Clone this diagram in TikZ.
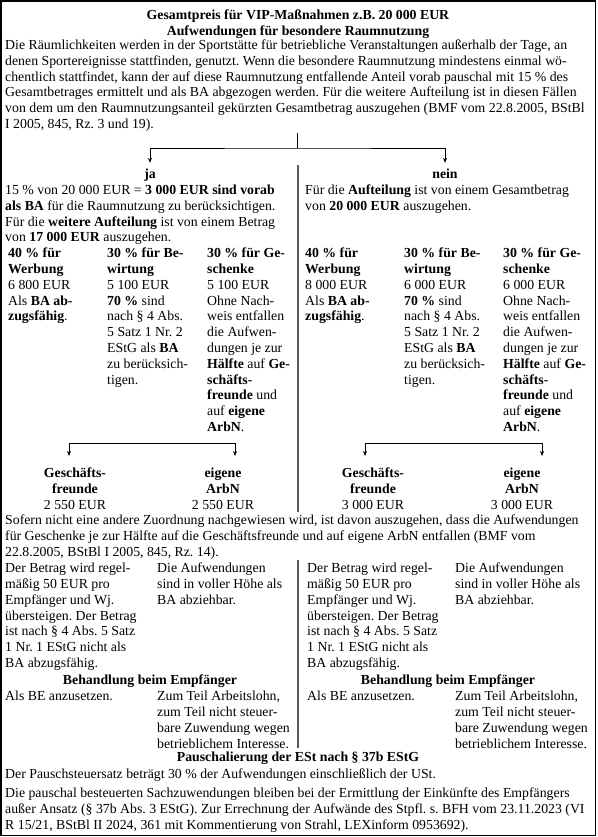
\documentclass[tikz,border=0pt]{standalone}
\usepackage{fontspec}
\setmainfont{Liberation Serif}
\usetikzlibrary{arrows.meta}
\newcommand{\fs}{\fontsize{13.8}{15.8}\selectfont}
\newcommand{\Lrows}[1]{\begin{tabular}[t]{@{}l@{}}#1\end{tabular}}
\newcommand{\Crows}[1]{\begin{tabular}[t]{@{}c@{}}#1\end{tabular}}
\frenchspacing
\begin{document}
\begin{tikzpicture}[x=1pt,y=-1pt,
  txt/.style={inner sep=0pt, anchor=base west, font=\fs},
  ctr/.style={inner sep=0pt, anchor=base, font=\fs},
  divider/.style={line width=2.2pt, draw=black!65},
  conn/.style={line width=0.7pt},
  arr/.style={line width=0.7pt, {Stealth[length=5pt,width=4pt]}-{Stealth[length=5pt,width=4pt]}}]
\useasboundingbox (0,0) rectangle (597,837);
\draw[line width=1.6pt] (1,1) rectangle (595.5,835.5);

% title
\node[ctr] (title) at (298,19.6) {\Crows{\textbf{Gesamtpreis für VIP-Maßnahmen z.B. 20 000 EUR}\\\textbf{Aufwendungen für besondere Raumnutzung}}};
\node[txt] (intro) at (5,49.6) {\Lrows{Die Räumlichkeiten werden in der Sportstätte für betriebliche Veranstaltungen außerhalb der Tage, an\\denen Sportereignisse stattfinden, genutzt. Wenn die besondere Raumnutzung mindestens einmal wö-\\chentlich stattfindet, kann der auf diese Raumnutzung entfallende Anteil vorab pauschal mit 15 \% des\\Gesamtbetrages ermittelt und als BA abgezogen werden. Für die weitere Aufteilung ist in diesen Fällen\\von dem um den Raumnutzungsanteil gekürzten Gesamtbetrag auszugehen (BMF vom 22.8.2005, BStBl\\I 2005, 845, Rz. 3 und 19).}};

% split ja / nein
\node[ctr] (ja) at (150,178.6) {\Crows{\textbf{ja}}};
\node[ctr] (nein) at (445,178.6) {\Crows{\textbf{nein}}};
\coordinate (q) at (297.5,133);
\coordinate (qs) at (297.5,148);
\draw[conn] (q) -- (qs);
\draw[arr, shorten <=4.5pt, shorten >=4.5pt] (ja.north) |- (qs) -| (nein.north);

\draw[divider] (298,165) -- (298,512);

% left / right intro
\node[txt] (ltxt) at (5,194.6) {\Lrows{15 \% von 20 000 EUR = \textbf{3 000 EUR sind vorab}\\\textbf{als BA} für die Raumnutzung zu berücksichtigen.\\Für die \textbf{weitere Aufteilung} ist von einem Betrag\\von \textbf{17 000 EUR} auszugehen.}};
\node[txt] (rtxt) at (305,194.6) {\Lrows{Für die \textbf{Aufteilung} ist von einem Gesamtbetrag\\von \textbf{20 000 EUR} auszugehen.}};

% columns left
\node[txt] (lw) at (8,257.6) {\Lrows{\textbf{40 \% für}\\\textbf{Werbung}\\6 800 EUR\\Als \textbf{BA ab-}\\\textbf{zugsfähig}.}};
\node[txt] (lb) at (107,257.6) {\Lrows{\textbf{30 \% für Be-}\\\textbf{wirtung}\\5 100 EUR\\\textbf{70 \%} sind\\nach § 4 Abs.\\5 Satz 1 Nr. 2\\EStG als \textbf{BA}\\zu berücksich-\\tigen.}};
\node[txt] (lg) at (207,257.6) {\Lrows{\textbf{30 \% für Ge-}\\\textbf{schenke}\\5 100 EUR\\Ohne Nach-\\weis entfallen\\die Aufwen-\\dungen je zur\\\textbf{Hälfte} auf \textbf{Ge-}\\\textbf{schäfts-}\\\textbf{freunde} und\\auf \textbf{eigene}\\\textbf{ArbN}.}};
% columns right
\node[txt] (rw) at (305,257.6) {\Lrows{\textbf{40 \% für}\\\textbf{Werbung}\\8 000 EUR\\Als \textbf{BA ab-}\\\textbf{zugsfähig}.}};
\node[txt] (rb) at (404,257.6) {\Lrows{\textbf{30 \% für Be-}\\\textbf{wirtung}\\6 000 EUR\\\textbf{70 \%} sind\\nach § 4 Abs.\\5 Satz 1 Nr. 2\\EStG als \textbf{BA}\\zu berücksich-\\tigen.}};
\node[txt] (rg) at (503,257.6) {\Lrows{\textbf{30 \% für Ge-}\\\textbf{schenke}\\6 000 EUR\\Ohne Nach-\\weis entfallen\\die Aufwen-\\dungen je zur\\\textbf{Hälfte} auf \textbf{Ge-}\\\textbf{schäfts-}\\\textbf{freunde} und\\auf \textbf{eigene}\\\textbf{ArbN}.}};

% split Geschäftsfreunde / ArbN
\node[ctr] (lgf) at (75,477.6) {\Crows{\textbf{Geschäfts-}\\\textbf{freunde}\\2 550 EUR}};
\node[ctr] (lea) at (223,477.6) {\Crows{\textbf{eigene}\\\textbf{ArbN}\\2 550 EUR}};
\node[ctr] (rgf) at (373,477.6) {\Crows{\textbf{Geschäfts-}\\\textbf{freunde}\\3 000 EUR}};
\node[ctr] (rea) at (522,477.6) {\Crows{\textbf{eigene}\\\textbf{ArbN}\\3 000 EUR}};
\coordinate (la) at (69,443); \coordinate (lat) at (69,456);
\coordinate (lb2) at (235,443); \coordinate (lbt) at (235,456);
\coordinate (ra) at (365,443); \coordinate (rat) at (365,456);
\coordinate (rb2) at (542,443); \coordinate (rbt) at (542,456);
\draw[arr] (lat) -- (la) -- (lb2) -- (lbt);
\draw[arr] (rat) -- (ra) -- (rb2) -- (rbt);

\node[txt] (sofern) at (5,524.6) {\Lrows{Sofern nicht eine andere Zuordnung nachgewiesen wird, ist davon auszugehen, dass die Aufwendungen\\für Geschenke je zur Hälfte auf die Geschäftsfreunde und auf eigene ArbN entfallen (BMF vom\\22.8.2005, BStBl I 2005, 845, Rz. 14).}};

\draw[divider] (298,560) -- (298,748);

% lower left
\node[txt] (la1) at (5,572.6) {\Lrows{Der Betrag wird regel-\\mäßig 50 EUR pro\\Empfänger und Wj.\\übersteigen. Der Betrag\\ist nach § 4 Abs. 5 Satz\\1 Nr. 1 EStG nicht als\\BA abzugsfähig.}};
\node[txt] (lb1) at (157,572.6) {\Lrows{Die Aufwendungen\\sind in voller Höhe als\\BA abziehbar.}};
\node[ctr] (lhead) at (150,684.6) {\textbf{Behandlung beim Empfänger}};
\node[txt] (lc1) at (5,700.6) {Als BE anzusetzen.};
\node[txt] (ld1) at (157,700.6) {\Lrows{Zum Teil Arbeitslohn,\\zum Teil nicht steuer-\\bare Zuwendung wegen\\betrieblichem Interesse.}};
% lower right
\node[txt] (ra1) at (307,572.6) {\Lrows{Der Betrag wird regel-\\mäßig 50 EUR pro\\Empfänger und Wj.\\übersteigen. Der Betrag\\ist nach § 4 Abs. 5 Satz\\1 Nr. 1 EStG nicht als\\BA abzugsfähig.}};
\node[txt] (rb1) at (455,572.6) {\Lrows{Die Aufwendungen\\sind in voller Höhe als\\BA abziehbar.}};
\node[ctr] (rhead) at (448,684.6) {\textbf{Behandlung beim Empfänger}};
\node[txt] (rc1) at (307,700.6) {Als BE anzusetzen.};
\node[txt] (rd1) at (455,700.6) {\Lrows{Zum Teil Arbeitslohn,\\zum Teil nicht steuer-\\bare Zuwendung wegen\\betrieblichem Interesse.}};

% bottom
\node[ctr] (phead) at (298,761.6) {\textbf{Pauschalierung der ESt nach § 37b EStG}};
\node[txt] (psatz) at (5,778.6) {Der Pauschsteuersatz beträgt 30 \% der Aufwendungen einschließlich der USt.};
\node[txt] (plast) at (5,797.6) {\Lrows{Die pauschal besteuerten Sachzuwendungen bleiben bei der Ermittlung der Einkünfte des Empfängers\\außer Ansatz (§ 37b Abs. 3 EStG). Zur Errechnung der Aufwände des Stpfl. s. BFH vom 23.11.2023 (VI\\R 15/21, BStBl II 2024, 361 mit Kommentierung von Strahl, LEXinform 0953692).}};
\end{tikzpicture}
\end{document}
